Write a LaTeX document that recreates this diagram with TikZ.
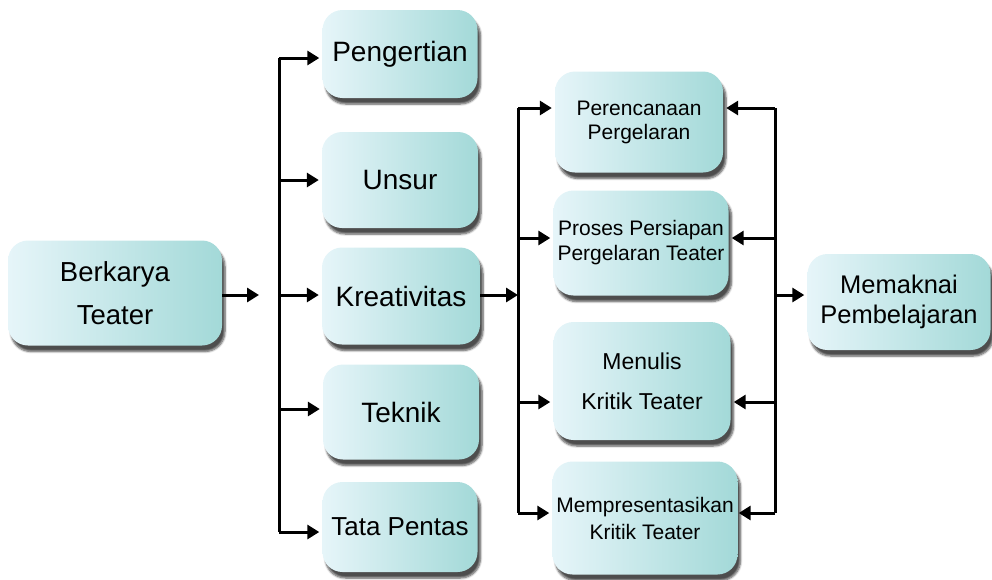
\documentclass[tikz,border=0pt]{standalone}
\usepackage{fontspec}
\setmainfont{Liberation Sans}
\usetikzlibrary{arrows.meta,shadows.blur,calc}
\definecolor{boxl}{HTML}{E6F5F9}
\definecolor{boxr}{HTML}{A3D9D8}

\begin{document}
\begin{tikzpicture}[x=1pt,y=-1pt,
    box/.style={rounded corners=20pt, left color=boxl, right color=boxr,
        inner sep=0pt, align=center,
        blur shadow={shadow xshift=3pt, shadow yshift=-6pt, shadow opacity=70, shadow blur steps=6}},
    arr/.style={line width=3pt, -{Triangle[length=12pt,width=14pt]}, shorten >=3pt},
    bus/.style={line width=3pt}]
    \useasboundingbox (0,0) rectangle (992,579);

    % Kotak utama
    \node[box, minimum width=214pt, minimum height=105pt,
        font=\fontsize{27.5}{43}\selectfont] (berkarya) at (115,293) {Berkarya\\Teater};

    % Kolom kiri
    \node[box, minimum width=155pt, minimum height=88pt, font=\fontsize{28}{32}\selectfont]
        (pengertian) at (400,54) {Pengertian};
    \node[box, minimum width=156pt, minimum height=96pt, font=\fontsize{28}{32}\selectfont]
        (unsur) at (400,180) {Unsur};
    \node[box, minimum width=158pt, minimum height=97pt, font=\fontsize{28}{32}\selectfont]
        (kreativitas) at (401,296) {Kreativitas};
    \node[box, minimum width=156pt, minimum height=95pt, font=\fontsize{28}{32}\selectfont]
        (teknik) at (401,412) {Teknik};
    \node[box, minimum width=155pt, minimum height=90pt, font=\fontsize{26}{32}\selectfont]
        (tatapentas) at (400,527) {Tata Pentas};

    % Kolom kanan
    \node[box, minimum width=168pt, minimum height=101pt, font=\fontsize{21}{24}\selectfont]
        (perencanaan) at (639,122) {Perencanaan\\Pergelaran};
    \node[box, minimum width=175pt, minimum height=105pt, font=\fontsize{21}{25}\selectfont]
        (proses) at (641,243) {Proses Persiapan\\Pergelaran Teater};
    \node[box, minimum width=177pt, minimum height=118pt, font=\fontsize{23}{40}\selectfont]
        (menulis) at (642,381) {Menulis\\Kritik Teater};
    \node[box, minimum width=185pt, minimum height=113pt, font=\fontsize{21}{27}\selectfont]
        (mempresentasikan) at (645,518) {Mempresentasikan\\Kritik Teater};

    % Kotak akhir
    \node[box, minimum width=183pt, minimum height=96pt, font=\fontsize{25.5}{30}\selectfont]
        (memaknai) at (899,302) {Memaknai\\Pembelajaran};

    % Garis pembagi
    \coordinate (kiri1) at (279,58);
    \coordinate (kiri2) at (279,180);
    \coordinate (kiri3) at (279,295);
    \coordinate (kiri4) at (279,409);
    \coordinate (kiri5) at (279,532);
    \coordinate (tengah1) at (518,108);
    \coordinate (tengah2) at (518,238);
    \coordinate (tengah3) at (518,295);
    \coordinate (tengah4) at (518,402);
    \coordinate (tengah5) at (518,513);
    \coordinate (kanan1) at (775,108);
    \coordinate (kanan2) at (775,238);
    \coordinate (kanan3) at (775,295);
    \coordinate (kanan4) at (775,402);
    \coordinate (kanan5) at (775,513);
    \coordinate (masuk) at (262,295);

    \draw[bus] (kiri1) -- (kiri5);
    \draw[bus] (tengah1) -- (tengah5);
    \draw[bus] (kanan1) -- (kanan5);

    \draw[arr] (berkarya.east |- masuk) -- (masuk);
    \draw[arr] (kiri1) -- (kiri1 -| pengertian.west);
    \draw[arr] (kiri2) -- (kiri2 -| unsur.west);
    \draw[arr] (kiri3) -- (kiri3 -| kreativitas.west);
    \draw[arr] (kiri4) -- (kiri4 -| teknik.west);
    \draw[arr] (kiri5) -- (kiri5 -| tatapentas.west);

    \draw[arr, shorten >=0pt] (kreativitas.east |- tengah3) -- (tengah3);
    \draw[arr] (tengah1) -- (tengah1 -| perencanaan.west);
    \draw[arr] (tengah2) -- (tengah2 -| proses.west);
    \draw[arr] (tengah4) -- (tengah4 -| menulis.west);
    \draw[arr] (tengah5) -- (tengah5 -| mempresentasikan.west);

    \draw[arr] (kanan1) -- (kanan1 -| perencanaan.east);
    \draw[arr] (kanan2) -- (kanan2 -| proses.east);
    \draw[arr] (kanan4) -- (kanan4 -| menulis.east);
    \draw[arr, shorten >=1pt] (kanan5) -- (kanan5 -| mempresentasikan.east);
    \draw[arr] (kanan3) -- (kanan3 -| memaknai.west);
\end{tikzpicture}
\end{document}
